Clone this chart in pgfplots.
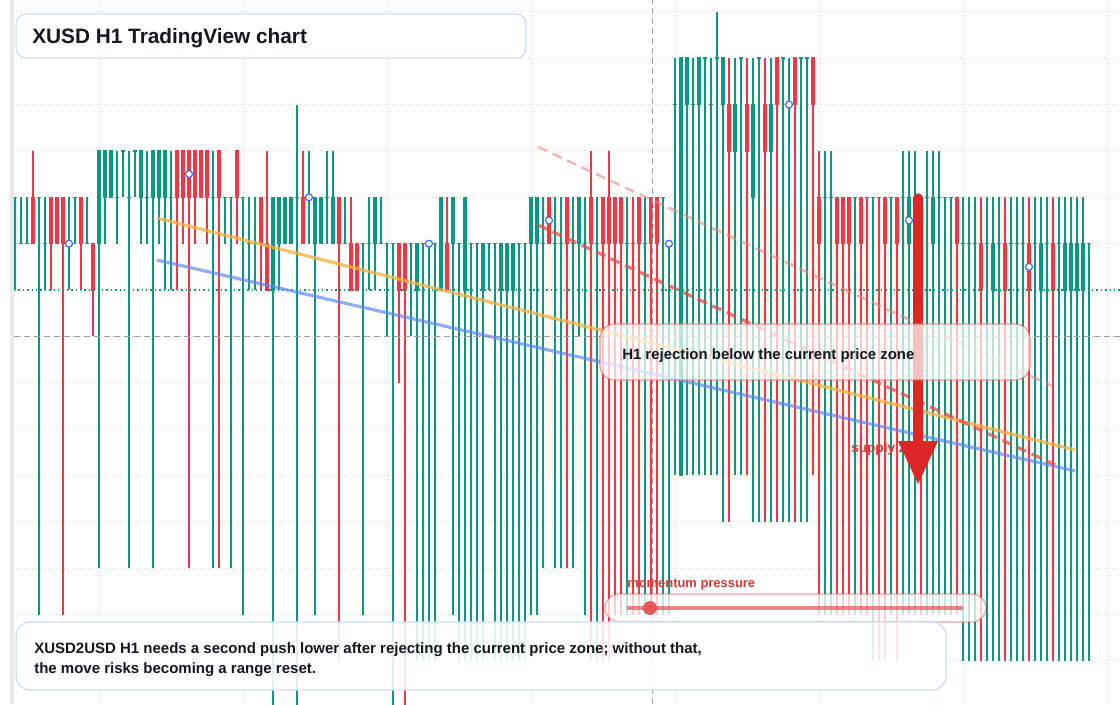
\documentclass[border=0pt]{standalone}
\usepackage{pgfplots}
\pgfplotsset{compat=1.18}
\usepackage{pgfplotstable}
\usepackage{fontspec}
\setmainfont{Liberation Sans}

\definecolor{bull}{RGB}{8,153,129}
\definecolor{bear}{RGB}{242,54,69}
\definecolor{gridgray}{RGB}{212,212,212}
\definecolor{refgray}{RGB}{158,158,158}
\definecolor{trendorange}{RGB}{246,176,64}
\definecolor{trendblue}{RGB}{92,134,240}
\definecolor{dashred}{RGB}{228,76,76}
\definecolor{dashpink}{RGB}{240,130,130}
\definecolor{markblue}{RGB}{58,108,244}
\definecolor{navy}{RGB}{19,23,34}
\definecolor{alertred}{RGB}{226,52,52}
\definecolor{arrowred}{RGB}{220,38,38}
\definecolor{boxblue}{RGB}{206,221,250}
\definecolor{boxred}{RGB}{232,80,80}
\definecolor{stripgray}{RGB}{233,233,233}
\definecolor{zonetint}{RGB}{255,238,226}

% candles: index, open, close, high, low (price in grid steps)
\pgfplotstableread{
i O C H L
0 2 2 2 0
1 1 1 2 1
2 1 1 2 1
4 2 2 2 -7
5 1 1 2 0
9 1 1 2 0
10 2 2 2 1
12 1 1 2 1
14 1 3 3 -6
15 2 3 3 1
16 2 3 3 2
17 2 2 3 1
18 3 3 3 2
19 2 2 3 -6
20 3 3 3 2
21 2 3 3 1
22 2 2 3 1
23 2 3 3 -6
24 2 3 3 1
25 2 3 3 0
26 2 2 3 0
33 2 2 3 -6
35 2 2 2 1
36 2 2 2 -6
38 2 2 2 -7
39 1 1 2 0
40 1 1 2 0
43 0 2 2 -9.5
44 1 2 2 0
45 1 2 2 1
46 1 2 2 1
47 2 2 4 -9.5
49 2 2 3 1
50 1 2 2 -7
51 1 2 2 1
52 2 2 3 1
53 1 2 3 1
55 1 1 2 1
58 1 1 1 -7
59 1 1 2 0
60 1 2 2 0
61 1 1 2 1
62 1 1 1 -1
63 1 1 1 -9.5
66 1 1 1 -1
67 0 1 1 -8
68 1 1 1 -8
69 1 1 1 -8
70 1 1 1 -8
71 0 2 2 0
73 1 2 2 -7
74 1 1 1 -8
75 0 2 2 -8
76 1 1 1 -8
77 1 1 1 -8
78 0 1 1 -8
79 1 1 1 0
80 1 1 1 -8
81 0 1 1 -8
82 0 1 1 -8
83 0 1 1 -8
84 1 1 1 -8
85 1 1 1 -8
86 1 2 2 -7
87 1 2 2 -7
88 1 1 2 -6
90 1 1 2 -6
91 1 1 2 -6
93 1 1 2 -6
94 1 2 2 -1
95 1 1 2 -7
97 1 1 2 -8
102 1 1 2 -7
105 1 1 2 -7
108 2 2 2 -7
109 1 1 1 -7
110 4 4 5 -4
111 -4 5 5 -4
112 4 5 5 -4
113 4 4 5 -4
114 4 5 5 -4
115 5 5 5 -4
116 4 4 5 -4
117 5 5 6 -4
118 4 5 5 -5
120 3 4 5 -4
121 5 5 5 -4
123 2 4 5 -5
124 5 5 5 -5
126 3 4 5 -5
128 5 5 5 -5
129 4 4 5 -5
131 5 5 5 -5
132 5 5 5 -5
135 2 2 3 -7
136 2 2 3 -7
140 2 2 2 -7
143 2 2 2 -8
146 2 2 2 -7
148 2 2 3 -7
149 1 2 3 -7
150 2 2 3 -7
152 2 2 3 -7
153 1 2 3 -7
154 2 2 3 -7
155 2 2 2 -7
156 2 2 2 -7
158 1 1 2 -8
159 1 1 2 -8
160 1 1 2 -8
162 1 1 2 -8
163 0 1 2 -8
164 1 1 2 -8
166 1 1 2 -8
167 1 1 2 -8
168 1 1 2 -8
170 1 1 2 -8
171 0 1 2 -8
172 1 1 2 -8
174 1 1 2 -8
175 0 1 2 -8
176 0 1 2 -8
177 0 1 2 -8
178 0 1 2 -8
179 1 1 1 -8
}\bullbars

\pgfplotstableread{
i O C H L
3 2 1 3 1
6 2 1 2 0
7 2 1 2 1
8 2 1 2 -7
11 2 1 2 0
13 1 0 1 -1
27 3 2 3 0
28 3 2 3 1
29 3 2 3 -6
30 3 2 3 1
31 3 2 3 2
32 3 2 3 1
34 3 2 3 -6
37 3 2 3 1
41 2 1 2 0
42 1 0 3 0
48 2 1 3 1
54 2 1 2 -8
56 1 0 2 0
57 1 0 1 0
64 1 0 1 -2
65 1 0 1 -9.5
72 1 0 2 0
89 2 1 2 1
92 2 1 2 -6
96 2 1 3 -8
98 2 1 2 -8
99 2 1 3 -8
100 2 1 2 -7
101 2 1 2 -7
103 1 1 2 -7
104 2 1 2 -7
106 2 1 2 -7
107 2 1 2 -7
119 4 3 5 -5
122 4 3 5 -4
125 4 3 5 -5
127 5 4 5 -5
130 5 4 5 -5
133 5 4 5 -4
134 2 1 3 -7
137 2 1 2 -7
138 2 1 2 -7
139 2 1 2 -7
141 2 1 2 -7
142 2 2 2 -7
144 2 2 2 -8
145 2 1 2 -8
147 2 1 2 -8
151 2 2 2 -7
157 2 1 2 -7
161 1 0 2 -8
165 1 0 2 -8
169 1 0 2 -8
173 1 0 2 -8
}\bearbars

\begin{document}
\begin{tikzpicture}
\begin{axis}[
  at={(0pt,0pt)}, anchor=south west,
  width=840pt, height=528pt, scale only axis,
  xmin=-2.5, xmax=184.1667,
  ymin=-8.930, ymax=6.255,
  xtick={14,38,62,86,110,134,158,182},
  ytick={-8,-7,...,6},
  xticklabels={}, yticklabels={},
  grid=major,
  major grid style={draw=gridgray, line width=0.75pt, dash pattern=on 0.75pt off 2.25pt},
  axis line style={draw=none},
  tick style={draw=none},
]
% supply zone tint
\fill[zonetint, opacity=0.45] (axis cs:85,1.79) rectangle (axis cs:169.5,-4.10);

% wicks
\addplot[bull, line width=0.8pt, quiver={u=0, v=\thisrow{H}-\thisrow{L}}]
  table[x=i, y=L] {\bullbars};
\addplot[bear, line width=0.8pt, quiver={u=0, v=\thisrow{H}-\thisrow{L}}]
  table[x=i, y=L] {\bearbars};
% bodies (a flat candle keeps a thin tick)
\addplot[bull, line width=3.5pt, quiver={u=0, v=abs(\thisrow{C}-\thisrow{O})+0.03}]
  table[x=i, y expr={min(\thisrow{O},\thisrow{C})-0.015}] {\bullbars};
\addplot[bear, line width=3.5pt, quiver={u=0, v=abs(\thisrow{C}-\thisrow{O})+0.03}]
  table[x=i, y expr={min(\thisrow{O},\thisrow{C})-0.015}] {\bearbars};

% last price and reference levels
\draw[bull, line width=0.8pt, dash pattern=on 1.1pt off 2.2pt] (axis cs:-0.17,0) -- (axis cs:184.2,0);
\draw[refgray, line width=0.75pt, dash pattern=on 4.5pt off 3pt] (axis cs:-0.17,-1) -- (axis cs:184.2,-1);
\draw[refgray, line width=0.75pt, dash pattern=on 4.5pt off 3pt] (axis cs:106.17,6.3) -- (axis cs:106.17,-9);

% trend lines
\addplot[trendorange, line width=2.4pt, opacity=0.78] coordinates {(23.67,1.553) (176.67,-3.451)};
\addplot[trendblue, line width=2.4pt, opacity=0.68] coordinates {(23.67,0.647) (176.67,-3.904)};
\addplot[dashpink, line width=1.9pt, opacity=0.6, dash pattern=on 7.5pt off 4.5pt] coordinates {(87.17,3.085) (172.83,-2.071)};
\addplot[dashred, line width=2.4pt, opacity=0.75, dash pattern=on 7.5pt off 4.5pt] coordinates {(87.17,1.402) (174.17,-3.818)};

% sampled midpoints
\addplot[only marks, mark=*, mark size=2.6pt, mark options={fill=white, draw=markblue, line width=0.9pt}]
  coordinates {(9,1) (29,2.5) (49,2) (69,1) (89,1.5) (109,1) (129,4) (149,1.5) (169,0.5)};
\end{axis}

\begin{scope}[x=0.75pt, y=-0.75pt, yshift=528pt]
  % price scale edge
  \fill[white] (0,0) rectangle (10,704);
  \fill[stripgray] (10,0) rectangle (14,704);

  % supply zone label and arrow
  \node[anchor=base west, inner sep=0, text=alertred, font=\fontsize{10.2pt}{12pt}\selectfont\bfseries] at (851,452) {supply zone};
  \draw[arrowred, line width=7pt, line cap=round] (918,198) -- (918,442);
  \fill[arrowred] (898,441) -- (938,441) -- (918,484) -- cycle;

  % rejection callout
  \draw[rounded corners=11pt, fill=white, fill opacity=0.72, draw=boxred, draw opacity=0.6, line width=0.9pt] (600,324) rectangle (1030,380);
  \node[anchor=base west, inner sep=0, text=navy, font=\fontsize{11.2pt}{13pt}\selectfont\bfseries] at (622,359.5) {H1 rejection below the current price zone};

  % momentum gauge
  \node[anchor=base west, inner sep=0, text=alertred, font=\fontsize{9.7pt}{12pt}\selectfont\bfseries] at (627,587) {momentum pressure};
  \draw[rounded corners=10.5pt, fill=white, fill opacity=0.75, draw=boxred, draw opacity=0.55, line width=0.9pt] (605,594) rectangle (986,622);
  \draw[boxred, opacity=0.7, line width=2.4pt] (627,608) -- (963,608);
  \fill[boxred, opacity=0.95] (650,608) circle (5.2pt);

  % summary box
  \draw[rounded corners=10.5pt, fill=white, fill opacity=0.88, draw=boxblue, line width=1.1pt] (16,622) rectangle (946,690);
  \node[anchor=base west, inner sep=0, text=navy, font=\fontsize{11.25pt}{13pt}\selectfont\bfseries] at (34,653.3) {XUSD2USD H1 needs a second push lower after rejecting the current price zone; without that,};
  \node[anchor=base west, inner sep=0, text=navy, font=\fontsize{11.25pt}{13pt}\selectfont\bfseries] at (34,673.3) {the move risks becoming a range reset.};

  % title
  \draw[rounded corners=7.5pt, fill=white, draw=boxblue, line width=0.9pt] (16,14) rectangle (526,58);
  \node[anchor=base west, inner sep=0, text=navy, font=\fontsize{15.6pt}{18pt}\selectfont\bfseries] at (32,43.5) {XUSD H1 TradingView chart};
\end{scope}

\pgfresetboundingbox
\useasboundingbox (0,0) rectangle (840pt,528pt);
\end{tikzpicture}
\end{document}
